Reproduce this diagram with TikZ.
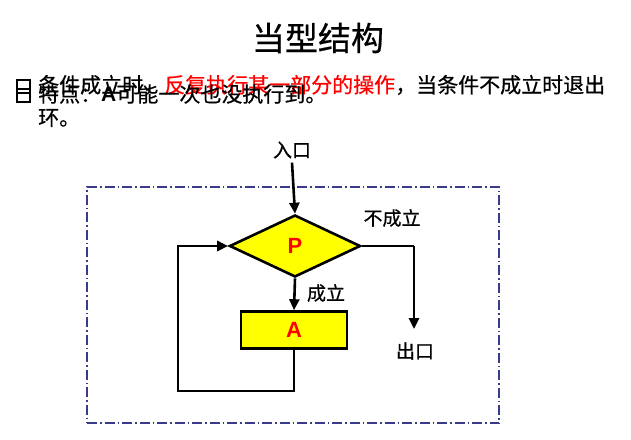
\documentclass[tikz,border=0pt]{standalone}
\usepackage{fontspec}
\setmainfont{Liberation Sans}
\newfontfamily\cjk[FakeBold=0.6]{Noto Sans CJK SC}
\usetikzlibrary{shapes.geometric,arrows.meta}
\definecolor{boxblue}{HTML}{3A3A8A}
\definecolor{pyellow}{HTML}{FFFF00}
\definecolor{pred}{HTML}{FF0000}
\begin{document}
\begin{tikzpicture}[x=1pt,y=-1pt,
  txt/.style={inner sep=0pt,font=\cjk\fontsize{21}{25}\selectfont},
  lbl/.style={inner sep=0pt,font=\cjk\fontsize{19}{22}\selectfont},
  bul/.style={draw,line width=2pt,minimum size=13pt,inner sep=0pt},
  flow/.style={line width=2.6pt},
  arr/.style={flow,-{Triangle[length=11pt,width=10pt]}},
  dec/.style={diamond,draw,line width=2.6pt,fill=pyellow,minimum width=131pt,minimum height=62pt,inner sep=0pt},
  proc/.style={rectangle,draw,line width=2.6pt,fill=pyellow,minimum width=106pt,minimum height=37pt,inner sep=0pt},
  big/.style={text=pred,font=\bfseries\fontsize{22}{24}\selectfont}
]
\useasboundingbox (0,0) rectangle (631,439);
% title
\node[inner sep=0pt,font=\cjk\fontsize{33}{38}\selectfont] (title) at (318,38) {当型结构};
% bullets
\node[bul] (b1) at (23,86) {};
\node[bul] (b2) at (23,95) {};
\node[txt,anchor=west] (l1) at (38,85) {条件成立时，\textcolor{pred}{反复执行某一部分的操作}，当条件不成立时退出};
\node[txt,anchor=west] (l2) at (38,94) {特点：{\normalfont\bfseries A}可能一次也没执行到。};
\node[txt,anchor=west] (l3) at (38,118) {环。};
% frame
\node[draw=boxblue,line width=1.3pt,dash pattern=on 10pt off 3pt on 1.5pt off 3pt,minimum width=412pt,minimum height=236pt,inner sep=0pt] (frame) at (293,305) {};
% flowchart
\node[lbl] (in) at (292,150) {入口};
\node[dec] (P) at (295,246) {};
\node[big] at (P) {P};
\node[proc] (A) at (294,330) {};
\node[big] at (A) {A};
\node[lbl] (no) at (392,218) {不成立};
\node[lbl] (yes) at (326,293) {成立};
\node[lbl] (out) at (415,351) {出口};
\coordinate (r1) at (414,246);
\coordinate (r2) at (414,329);
\coordinate (d1) at (294,391);
\coordinate (d2) at (178,391);
\coordinate (d3) at (178,246);
\draw[arr] (in.south) ++(0,4) -- (P.north);
\draw[arr] (P.south) -- (A.north);
\draw[flow] (P.east) -- (r1);
\draw[arr] (r1) -- (r2);
\draw[arr,line join=miter] (A.south) -- (d1) -- (d2) -- (d3) -- (P.west);
\end{tikzpicture}
\end{document}
